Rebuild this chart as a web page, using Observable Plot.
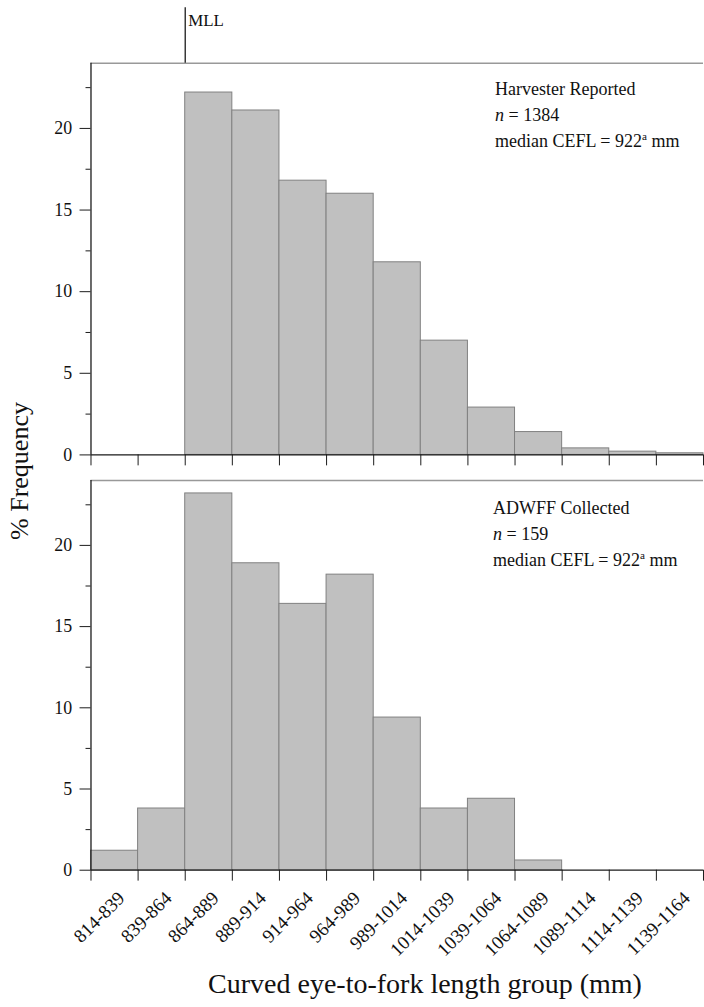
<!DOCTYPE html>
<html>
<head>
<meta charset="utf-8">
<script src="https://cdn.jsdelivr.net/npm/d3@7"></script>
<script src="https://cdn.jsdelivr.net/npm/@observablehq/plot@0.6"></script>
<style>
  html, body { margin: 0; padding: 0; background: #fff; overflow: hidden; }
  #wrap { position: relative; width: 704px; height: 1007px; overflow: hidden; background: #fff;
          font-family: "Liberation Serif", "DejaVu Serif", serif; color: #111; }
  .abs { position: absolute; white-space: nowrap; }
  .legend { font-size: 18px; line-height: 26px; }
  .legend sup { font-size: 0.62em; vertical-align: super; line-height: 0; }
</style>
</head>
<body>
<div id="wrap">
  <div id="p1" class="abs" style="left:0;top:0"></div>
  <div id="p2" class="abs" style="left:0;top:470px"></div>
  <div id="leg1" class="abs legend" style="left:495px;top:76px"></div>
  <div id="leg2" class="abs legend" style="left:493px;top:495px"></div>
  <div id="ylab" class="abs" style="left:20px;top:471px;font-size:26px;transform:translate(-50%,-50%) rotate(-90deg)"></div>
  <div id="xlab" class="abs" style="left:425px;top:969px;font-size:28px;line-height:30px;transform:translateX(-50%)"></div>
</div>
<script>
// ---- data ----
const groups = ["814-839", "839-864", "864-889", "889-914", "914-964", "964-989", "989-1014",
                "1014-1039", "1039-1064", "1064-1089", "1089-1114", "1114-1139", "1139-1164"];
const harvester = [0, 0, 22.2, 21.1, 16.8, 16.0, 11.8, 7.0, 2.9, 1.4, 0.4, 0.2, 0.1];
const adwff = [1.2, 3.8, 23.2, 18.9, 16.4, 18.2, 9.4, 3.8, 4.4, 0.6, 0, 0, 0];
const yMajor = [0, 5, 10, 15, 20];
const yMinor = [2.5, 7.5, 12.5, 17.5, 22.5];
const yMax = 24;
const mllGroup = 2;      // MLL at lower edge of 864-889 group
const mllTop = 27.4;     // line extends above the frame
const legend1 = ["Harvester Reported", "<i>n</i> = 1384", "median CEFL = 922<sup>a</sup> mm"];
const legend2 = ["ADWFF Collected", "<i>n</i> = 159", "median CEFL = 922<sup>a</sup> mm"];
const yTitle = "% Frequency";
const xTitle = "Curved eye-to-fork length group (mm)";

const rows = (vals) => groups.map((g, i) => ({i, group: g, value: vals[i]}));
const edges = d3.range(groups.length + 1);
const FILL = "#c0c0c0", STROKE = "#808080", AX = "#1a1a1a";

function panel({vals, height, marginTop, marginBottom, labels, mll}) {
  const data = rows(vals).filter(d => d.value > 0);
  const marks = [
    Plot.rectY(data, {x1: "i", x2: d => d.i + 1, y: "value", fill: FILL, stroke: STROKE, strokeWidth: 1, inset: 0}),
    Plot.ruleY([yMax], {x1: 0, x2: groups.length, stroke: "#999", strokeWidth: 1.5}),
    Plot.ruleX([0], {y1: 0, y2: yMax, stroke: AX, strokeWidth: 1.3}),
    Plot.ruleY([0], {x1: 0, x2: groups.length, stroke: AX, strokeWidth: 1.3}),
    Plot.axisY({ticks: yMajor, tickSize: 11, tickPadding: 8, stroke: AX, fontSize: 18, label: null, tickFormat: d3.format("d")}),
    Plot.axisY({ticks: yMinor, tickSize: 5, stroke: AX, label: null, tickFormat: () => ""}),
    Plot.axisX({ticks: edges, tickSize: 11, stroke: AX, label: null, tickFormat: () => ""})
  ];
  if (labels) {
    marks.push(Plot.text(rows(vals), {x: d => d.i + 0.5, y: 0, text: "group", rotate: -45,
      textAnchor: "end", lineAnchor: "middle", dx: 7, dy: 25, fontSize: 19, fill: "#111"}));
  }
  if (mll) {
    marks.push(Plot.ruleX([mllGroup], {y1: yMax, y2: mllTop, stroke: AX, strokeWidth: 1.3}));
    marks.push(Plot.text(["MLL"], {x: mllGroup, y: mllTop, text: d => d, textAnchor: "start",
      lineAnchor: "top", dx: 3, dy: 6, fontSize: 17, fill: "#111"}));
  }
  return Plot.plot({
    width: 708, height, marginLeft: 91, marginRight: 1, marginTop, marginBottom,
    style: {fontFamily: '"Liberation Serif", serif', fontSize: "18px", color: "#111", background: "transparent", overflow: "visible"},
    x: {domain: [0, groups.length], axis: null},
    y: {domain: [0, yMax], axis: null},
    marks
  });
}

document.getElementById("p1").append(panel({vals: harvester, height: 480, marginTop: 63, marginBottom: 23, labels: false, mll: true}));
document.getElementById("p2").append(panel({vals: adwff, height: 490, marginTop: 10, marginBottom: 88, labels: true, mll: false}));

document.getElementById("leg1").innerHTML = legend1.join("<br>");
document.getElementById("leg2").innerHTML = legend2.join("<br>");
document.getElementById("ylab").textContent = yTitle;
document.getElementById("xlab").textContent = xTitle;
</script>
</body>
</html>
